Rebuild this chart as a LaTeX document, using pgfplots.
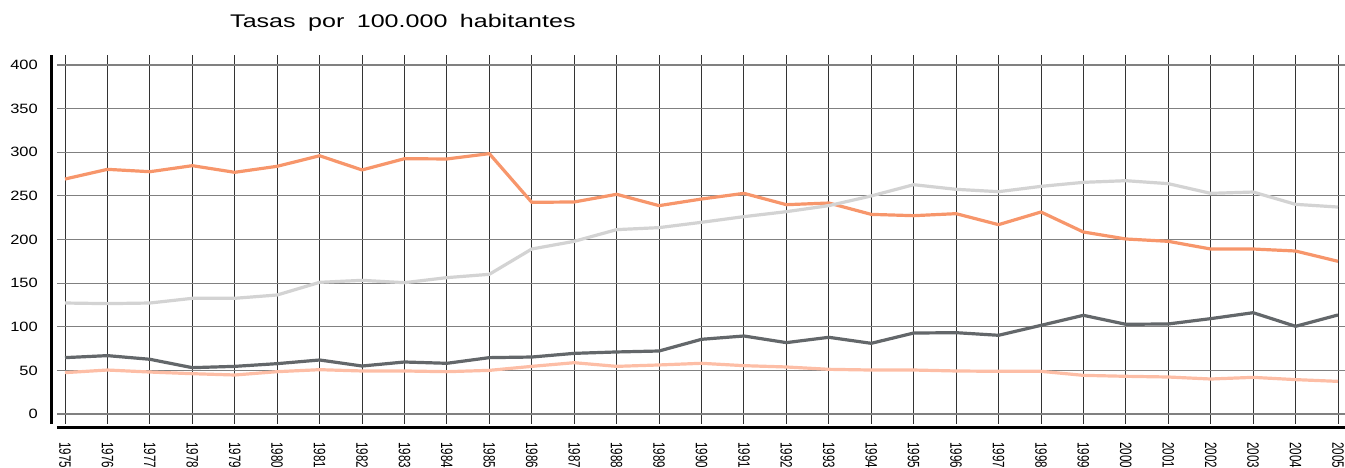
\documentclass[border=0pt]{standalone}
\usepackage{pgfplots}
\pgfplotsset{compat=1.18}
\usepackage{pgfplotstable}
\usepackage{graphicx}
\usepackage{fontspec}
\setmainfont{Liberation Sans}
\newfontfamily\titlefont[FakeStretch=1.37]{Liberation Sans}
\newfontfamily\yfont[FakeStretch=1.22]{Liberation Sans}
\definecolor{cOrange}{HTML}{F7966B}
\definecolor{cLgray}{HTML}{D3D3D3}
\definecolor{cDgray}{HTML}{63676A}
\definecolor{cSalmon}{HTML}{FDBEA6}
\pgfplotstableread{
year org lgray dgray salmon
1975 269.3 127.2 64.6 47.4
1976 280.4 126.5 66.9 50.4
1977 277.7 127.2 62.7 48.1
1978 284.6 132.6 53.1 46.2
1979 277.0 132.6 54.6 44.7
1980 283.9 136.4 57.7 48.5
1981 296.0 150.9 61.9 50.8
1982 279.7 153.2 55.0 49.3
1983 292.6 150.5 59.6 49.3
1984 292.3 156.3 58.1 48.5
1985 298.4 160.1 64.6 50.0
1986 242.6 189.1 65.3 54.6
1987 243.0 197.9 69.5 58.8
1988 251.8 211.3 71.1 54.6
1989 238.8 213.6 72.2 56.2
1990 246.4 219.7 85.6 58.1
1991 252.9 226.2 89.4 55.4
1992 239.9 231.9 81.8 53.9
1993 241.8 238.8 87.9 51.2
1994 228.8 249.9 81.0 50.4
1995 227.3 262.8 92.8 50.4
1996 229.6 257.5 93.2 49.3
1997 217.0 254.8 90.2 48.9
1998 231.5 260.9 101.6 48.9
1999 208.6 265.5 113.1 44.3
2000 200.6 267.4 102.8 43.2
2001 197.9 264.0 103.2 42.4
2002 189.1 252.9 109.3 40.1
2003 189.1 254.4 116.1 42.0
2004 186.8 240.3 100.5 39.4
2005 175.0 237.2 113.5 37.4
}\datatable
\begin{document}
\begin{tikzpicture}
\path[use as bounding box] (-57pt,-44pt) rectangle (1288pt,424pt);
\begin{axis}[
  name=ax,
  at={(0pt,0pt)}, anchor=south west,
  scale only axis, width=1288pt, height=369pt,
  xmin=1974.8115, xmax=2005.165, ymin=-11.46, ymax=411.46,
  xtick={1975,1976,...,2005}, ytick={0,50,...,400},
  axis line style={draw=none},
  major tick length=0pt,
  xmajorgrids, ymajorgrids,
  x grid style={black!80, line width=0.9pt},
  y grid style={black!50, line width=1.1pt},
  /pgf/number format/assume math mode=true,
  /pgf/number format/1000 sep={},
  xticklabel={\scalebox{1}[1.42]{\pgfmathprintnumber{\tick}}},
  xticklabel style={rotate=-90, anchor=west, inner sep=0pt, font=\fontsize{11.6}{11.6}\selectfont},
  xticklabel shift=18pt,
  yticklabel style={anchor=east, inner sep=0pt, font=\yfont\fontsize{13.5}{13.5}\selectfont},
  yticklabel shift=19pt,
  every axis plot/.append style={line width=3.2pt, line join=round, mark=none},
]
\addplot[cOrange] table[x=year, y=org] {\datatable};
\addplot[cLgray] table[x=year, y=lgray] {\datatable};
\addplot[cDgray] table[x=year, y=dgray] {\datatable};
\addplot[cSalmon] table[x=year, y=salmon] {\datatable};
\end{axis}
\draw[black, line width=3pt] ([xshift=-5pt]ax.south west) -- ([xshift=-5pt]ax.north west);
\draw[black, line width=3pt] ([yshift=-3.5pt]ax.south west) -- ([yshift=-3.5pt]ax.south east);
\node[anchor=base west, inner sep=0pt, font=\titlefont\fontsize{18.3}{18.3}\selectfont] at (173pt,396pt) {Tasas\hspace{5.5pt} por\hspace{5.5pt} 100.000\hspace{5.5pt} habitantes};
\end{tikzpicture}
\end{document}
